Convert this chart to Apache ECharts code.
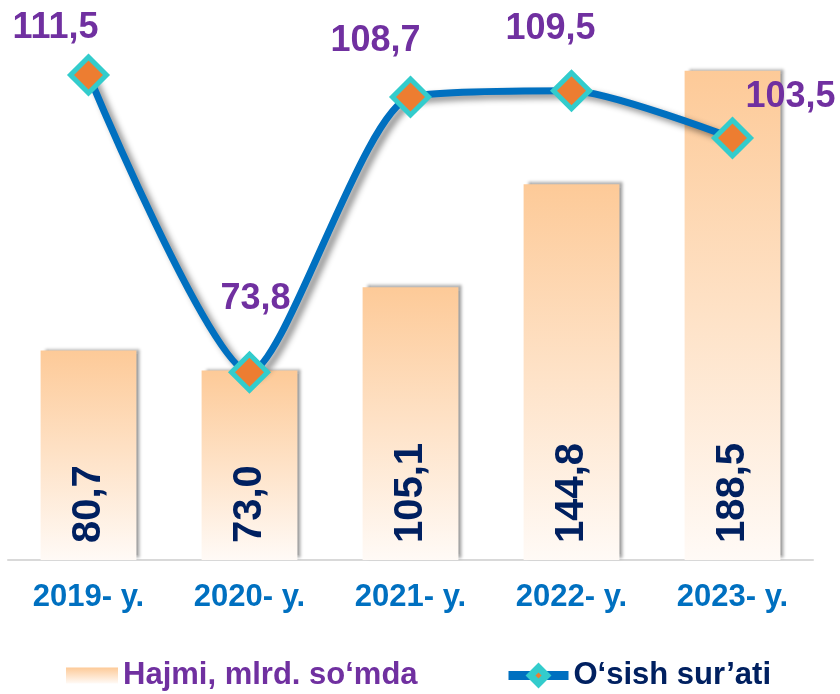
<!DOCTYPE html>
<html>
<head>
<meta charset="utf-8">
<script src="https://cdn.jsdelivr.net/npm/echarts@6/dist/echarts.min.js"></script>
<style>
  html, body { margin: 0; padding: 0; background: #fff; }
  #chart { width: 840px; height: 694px; }
</style>
</head>
<body>
<div id="chart"></div>
<script>
var years = ['2019- y.', '2020- y.', '2021- y.', '2022- y.', '2023- y.'];
var volume = [80.7, 73.0, 105.1, 144.8, 188.5];
var growth = [111.5, 73.8, 108.7, 109.5, 103.5];
var volumeName = 'Hajmi, mlrd. so‘mda';
var growthName = 'O‘sish sur’ati';

// where each growth label sits relative to its point
var growthLabelOffsets = [[-33, -47], [6, -73], [-35, -56], [-21, -62], [58, -41]];

var font = '"Liberation Sans", Arial, sans-serif';
function comma(v) { return v.toFixed(1).replace('.', ','); }

var barFill = new echarts.graphic.LinearGradient(0, 0, 0, 1, [
  { offset: 0, color: '#fdca98' },
  { offset: 1, color: '#fffaf6' }
]);

var chart = echarts.init(document.getElementById('chart'));
chart.setOption({
  animation: false,
  grid: { left: 8, right: 27, top: 41, bottom: 134 },
  xAxis: {
    type: 'category',
    data: years,
    axisLine: { lineStyle: { color: '#d9d9d9', width: 2 } },
    axisTick: { show: false },
    axisLabel: {
      color: '#0070c0', fontFamily: font, fontWeight: 'bold', fontSize: 31, margin: 22
    }
  },
  yAxis: [
    { type: 'value', min: 0, max: 200, show: false },
    { type: 'value', min: 50, max: 115.8, show: false }
  ],
  legend: [{
    data: [{ name: volumeName, textStyle: { color: '#7030a0' } }],
    left: 66, top: 660, padding: 0,
    icon: 'rect', itemWidth: 52, itemHeight: 16,
    itemStyle: { shadowBlur: 0, shadowColor: 'transparent', shadowOffsetX: 0, shadowOffsetY: 0 },
    textStyle: { fontFamily: font, fontWeight: 'bold', fontSize: 31 }
  }, {
    data: [{ name: growthName, textStyle: { color: '#002060' } }],
    left: 504, top: 660, padding: 0,
    itemWidth: 60, itemHeight: 20,
    lineStyle: { width: 9, shadowBlur: 0, shadowColor: 'transparent' },
    itemStyle: { borderWidth: 7, shadowBlur: 0, shadowColor: 'transparent' },
    textStyle: { fontFamily: font, fontWeight: 'bold', fontSize: 31 }
  }],
  series: [{
    name: volumeName,
    type: 'bar',
    data: volume,
    barWidth: '59.5%',
    itemStyle: {
      color: barFill,
      shadowColor: 'rgba(0,0,0,0.35)', shadowBlur: 3, shadowOffsetX: 4, shadowOffsetY: -2
    },
    label: {
      show: true,
      position: 'insideBottom',
      rotate: 90,
      align: 'left',
      verticalAlign: 'middle',
      distance: 17,
      color: '#002060',
      fontFamily: font,
      fontWeight: 'bold',
      fontSize: 40,
      formatter: function (p) { return comma(p.value); }
    }
  }, {
    name: growthName,
    type: 'line',
    yAxisIndex: 1,
    smooth: 0.22,
    data: growth.map(function (v, i) {
      return { value: v, label: { offset: growthLabelOffsets[i] } };
    }),
    symbol: 'diamond',
    symbolSize: 36,
    lineStyle: {
      color: '#0070c0', width: 7,
      shadowColor: 'rgba(0,0,0,0.45)', shadowBlur: 6, shadowOffsetX: 5, shadowOffsetY: 4
    },
    itemStyle: { color: '#ed7d31', borderColor: '#33cccc', borderWidth: 5 },
    label: {
      show: true,
      position: 'inside',
      color: '#7030a0',
      fontFamily: font,
      fontWeight: 'bold',
      fontSize: 36,
      formatter: function (p) { return comma(p.value); }
    },
    z: 3
  }]
});
</script>
</body>
</html>
